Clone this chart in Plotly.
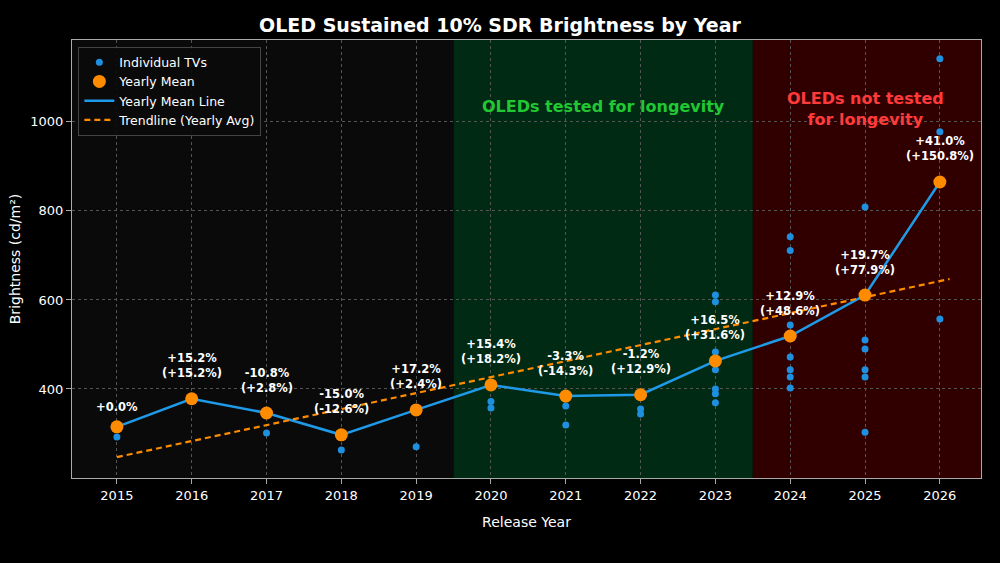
import plotly.graph_objects as go

years = list(range(2015, 2027))
mean_vals = [315, 378, 346, 297, 353, 409, 384, 387, 463, 519, 611, 865]
pct_labels = ["+0.0%", "+15.2%<br>(+15.2%)", "-10.8%<br>(+2.8%)", "-15.0%<br>(-12.6%)",
              "+17.2%<br>(+2.4%)", "+15.4%<br>(+18.2%)", "-3.3%<br>(-14.3%)", "-1.2%<br>(+12.9%)",
              "+16.5%<br>(+31.6%)", "+12.9%<br>(+48.6%)", "+19.7%<br>(+77.9%)", "+41.0%<br>(+150.8%)"]

tv_years = [2015, 2017, 2018, 2019, 2020, 2020, 2021, 2021, 2022, 2022,
            2023, 2023, 2023, 2023, 2023, 2023, 2023,
            2024, 2024, 2024, 2024, 2024, 2024, 2024,
            2025, 2025, 2025, 2025, 2025, 2025,
            2026, 2026, 2026]
tv_vals = [292, 301, 263, 270, 372, 357, 362, 319, 355, 344,
           611, 596, 483, 443, 400, 389, 369,
           742, 711, 544, 472, 443, 427, 402,
           809, 510, 490, 443, 427, 303,
           1142, 978, 557]

trend_x = [2015, 2026.13]
trend_y = [247, 647]

fig = go.Figure()
fig.add_trace(go.Scatter(x=years, y=mean_vals, mode="lines", name="Yearly Mean Line", legendrank=3,
                         line=dict(color="#1f9ae8", width=2.5)))
fig.add_trace(go.Scatter(x=trend_x, y=trend_y, mode="lines", name="Trendline (Yearly Avg)", legendrank=4,
                         line=dict(color="#ff8c00", width=2.2, dash="6px,4px")))
fig.add_trace(go.Scatter(x=tv_years, y=tv_vals, mode="markers", name="Individual TVs", legendrank=1,
                         marker=dict(color="#1f8fe0", size=7)))
fig.add_trace(go.Scatter(x=years, y=mean_vals, mode="markers", name="Yearly Mean", legendrank=2,
                         marker=dict(color="#ff8c00", size=13)))

fig.add_vrect(x0=2014.4, x1=2019.5, fillcolor="#0a0a0a", line_width=0, layer="below")
fig.add_vrect(x0=2019.5, x1=2023.5, fillcolor="#002a14", line_width=0, layer="below")
fig.add_vrect(x0=2023.5, x1=2026.55, fillcolor="#300000", line_width=0, layer="below")

for x, y, t in zip(years, mean_vals, pct_labels):
    fig.add_annotation(x=x, y=y, text="<b>" + t + "</b>", showarrow=False, yshift=33 if "<br>" in t else 20,
                       font=dict(color="white", size=11.5))

fig.add_annotation(x=2021.5, y=1035, text="<b>OLEDs tested for longevity</b>", showarrow=False,
                   font=dict(color="#22c832", size=16))
fig.add_annotation(x=2025, y=1030, text="<b>OLEDs not tested<br>for longevity</b>", showarrow=False,
                   font=dict(color="#ff3a3a", size=16), yanchor="middle")

fig.update_layout(
    width=1000, height=563,
    paper_bgcolor="black", plot_bgcolor="black",
    font=dict(family="DejaVu Sans", color="white", size=12),
    title=dict(text="<b>OLED Sustained 10% SDR Brightness by Year</b>", x=0.5, y=0.966,
               font=dict(size=19, color="white")),
    margin=dict(l=72, r=19, t=40, b=85),
    showlegend=True,
    legend=dict(x=0.007, y=0.985, bgcolor="rgba(10,10,10,0.9)", bordercolor="#444", borderwidth=1,
                font=dict(size=12.5, color="white")),
)
fig.update_xaxes(range=[2014.4, 2026.55], tickvals=years, title_text="Release Year",
                 showgrid=True, gridcolor="#555", griddash="dot", gridwidth=0.7, zeroline=False,
                 showline=True, linecolor="#aaa", mirror=True, ticks="outside", tickcolor="#aaa",
                 tickfont=dict(size=13), title_font=dict(size=14), automargin=False)
fig.update_yaxes(range=[200, 1184], tickvals=[400, 600, 800, 1000],
                 title=dict(text="Brightness (cd/m²)", standoff=6, font=dict(size=14)),
                 showgrid=True, gridcolor="#555", griddash="dot", gridwidth=0.7, zeroline=False,
                 showline=True, linecolor="#aaa", mirror=True, ticks="outside", tickcolor="#aaa",
                 tickfont=dict(size=13), automargin=False)

fig.write_html("out.html", config={"displayModeBar": False},
               post_script="document.body.style.margin='0';")
